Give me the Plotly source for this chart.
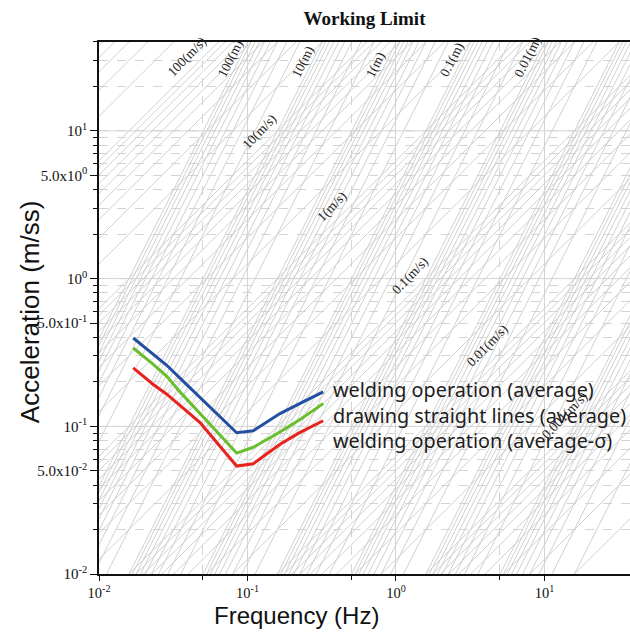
import math
import plotly.graph_objects as go

# ---------------- data ----------------
title_text = "Working Limit"
x_title = "Frequency (Hz)"
y_title = "Acceleration (m/ss)"

freq = [0.0170, 0.0232, 0.0286, 0.0351, 0.0479, 0.0845, 0.1094, 0.1656, 0.226, 0.3236]
welding_avg = [0.396, 0.307, 0.259, 0.212, 0.157, 0.0904, 0.0933, 0.122, 0.143, 0.171]
drawing_avg = [0.339, 0.263, 0.218, 0.171, 0.122, 0.0659, 0.0721, 0.0914, 0.111, 0.1425]
welding_avg_sigma = [0.249, 0.192, 0.165, 0.138, 0.106, 0.0538, 0.0558, 0.0755, 0.0910, 0.109]

series_values = [welding_avg, drawing_avg, welding_avg_sigma]
series_names = ["welding operation (average)",
                "drawing straight lines (average)",
                "welding operation (average-σ)"]
series_colors = ["#2350a3", "#68bf2d", "#e8231d"]
label_yshift = [2, -12, -20]

# tripartite background lines: constant velocity (m/s) and constant displacement (m)
multipliers = [1, 2, 3, 4, 5, 6, 7, 8, 9]
velocity_decades = [1e-4, 1e-3, 1e-2, 1e-1, 1, 10, 100]
displacement_decades = [1e-6, 1e-5, 1e-4, 1e-3, 1e-2, 1e-1, 1, 10]
displacement_extra = [100]

velocity_label_values = [100, 10, 1, 0.1, 0.01, 0.001]
velocity_label_text = ["100(m/s)", "10(m/s)", "1(m/s)", "0.1(m/s)", "0.01(m/s)", "0.001(m/s)"]
displacement_label_values = [100, 10, 1, 0.1, 0.01]
displacement_label_text = ["100(m)", "10(m)", "1(m)", "0.1(m)", "0.01(m)"]

x_tickvals = [0.01, 0.1, 1, 10]
x_ticktext = ["10<sup>-2</sup>", "10<sup>-1</sup>", "10<sup>0</sup>", "10<sup>1</sup>"]
x_minor_vals = [0.05, 0.5, 5]
y_tickvals = [0.01, 0.05, 0.1, 0.5, 1, 5, 10]
y_ticktext = ["10<sup>-2</sup>", "5.0x10<sup>-2</sup>", "10<sup>-1</sup>", "5.0x10<sup>-1</sup>",
              "10<sup>0</sup>", "5.0x10<sup>0</sup>", "10<sup>1</sup>"]
y_decades = [0.1, 1, 10]
y_minor_mult = [2, 3, 4, 6, 7, 8, 9]
y_minor_decades = [0.01, 0.1, 1, 10]

x_range_log = [-2, 1.576]
y_range_log = [-2, 1.602]

GRID = "#d4d4d4"
LINE = "#d0d0d0"
TWO_PI = 2 * math.pi

fig = go.Figure()

# solid decade gridlines (horizontal)
gx, gy = [], []
for d in y_decades:
    gx += [10 ** x_range_log[0], 10 ** x_range_log[1], None]
    gy += [d, d, None]
fig.add_trace(go.Scatter(x=gx, y=gy, mode="lines", line=dict(color=GRID, width=1),
                         hoverinfo="skip", showlegend=False))

f_lo, f_hi = 0.003, 100.0
# constant velocity lines: A = 2*pi*f*V
vx, vy = [], []
for dec in velocity_decades:
    for k in multipliers:
        V = k * dec
        vx += [f_lo, f_hi, None]
        vy += [TWO_PI * f_lo * V, TWO_PI * f_hi * V, None]
fig.add_trace(go.Scatter(x=vx, y=vy, mode="lines", line=dict(color=LINE, width=1),
                         hoverinfo="skip", showlegend=False))

# constant displacement lines: A = (2*pi*f)^2 * D
dx, dy = [], []
disp_vals = [k * dec for dec in displacement_decades for k in multipliers] + displacement_extra
for D in disp_vals:
    dx += [f_lo, f_hi, None]
    dy += [(TWO_PI * f_lo) ** 2 * D, (TWO_PI * f_hi) ** 2 * D, None]
fig.add_trace(go.Scatter(x=dx, y=dy, mode="lines", line=dict(color=LINE, width=1),
                         hoverinfo="skip", showlegend=False))

# measured curves
for vals, name, col in zip(series_values, series_names, series_colors):
    fig.add_trace(go.Scatter(x=freq, y=vals, mode="lines", name=name,
                             line=dict(color=col, width=3), showlegend=False))

annotations = []
# curve labels
for vals, name, ys in zip(series_values, series_names, label_yshift):
    annotations.append(dict(x=math.log10(freq[-1]), y=math.log10(vals[-1]), xref="x", yref="y",
                            text=name, showarrow=False, xanchor="left", yanchor="middle",
                            xshift=8, yshift=ys,
                            font=dict(family="Noto Sans", size=19.8, color="#1e1e1e")))

# velocity labels
for V, txt in zip(velocity_label_values, velocity_label_text):
    i = 2 - math.log10(V)
    annotations.append(dict(x=-1.569 + 0.5037 * i, y=1.343 - 0.4915 * i, xref="x", yref="y",
                            text=txt, showarrow=False, textangle=-46,
                            xanchor="left", yanchor="bottom", borderpad=0,
                            font=dict(family="Liberation Serif", size=13.5, color="#222")))
# displacement labels
for D, txt in zip(displacement_label_values, displacement_label_text):
    i = 2 - math.log10(D)
    annotations.append(dict(x=-1.232 + 0.5 * i, y=1.34, xref="x", yref="y",
                            text=txt, showarrow=False, textangle=-63,
                            xanchor="left", yanchor="bottom", borderpad=0,
                            font=dict(family="Liberation Serif", size=13.5, color="#222")))

# axis titles
annotations.append(dict(x=0.371, y=-0.078, xref="paper", yref="paper", text=x_title,
                        showarrow=False, xanchor="center", yanchor="middle", borderpad=0,
                        font=dict(family="Liberation Sans", size=24, color="#111")))
annotations.append(dict(x=-0.13, y=0.494, xref="paper", yref="paper", text=y_title,
                        showarrow=False, textangle=-90, xanchor="center", yanchor="middle",
                        font=dict(family="Liberation Sans", size=26, color="#111")))

y_minor_vals = [m * d for d in y_minor_decades for m in y_minor_mult] + [20, 30]

fig.update_layout(
    width=630, height=633,
    margin=dict(l=99, r=0, t=42, b=59),
    paper_bgcolor="white", plot_bgcolor="white",
    title=dict(text="<b>" + title_text + "</b>", x=0.5, xref="paper", xanchor="center",
               y=1 - 18 / 633, yanchor="middle",
               font=dict(family="Liberation Serif", size=19, color="#111")),
    annotations=annotations,
    xaxis=dict(type="log", range=x_range_log, tickvals=x_tickvals, ticktext=x_ticktext,
               ticks="outside", ticklen=5, tickwidth=1, tickcolor="#111",
               showline=True, linecolor="#111", linewidth=1.6, mirror=True,
               showgrid=True, gridcolor=GRID, gridwidth=1, zeroline=False,
               tickfont=dict(family="Liberation Serif", size=14.5, color="#111"),
               minor=dict(tickvals=x_minor_vals, ticks="outside", ticklen=4, tickcolor="#111",
                          showgrid=True, gridcolor=GRID, griddash="dash", gridwidth=1)),
    yaxis=dict(type="log", range=y_range_log, tickvals=y_tickvals, ticktext=y_ticktext,
               ticks="outside", ticklen=7, tickwidth=1, tickcolor="#111",
               showline=True, linecolor="#111", linewidth=1.6,
               showgrid=True, gridcolor=GRID, gridwidth=1, griddash="dash", zeroline=False,
               tickfont=dict(family="Liberation Serif", size=15, color="#111"),
               minor=dict(tickvals=y_minor_vals, ticks="outside", ticklen=4, tickcolor="#111",
                          showgrid=True, gridcolor=GRID, griddash="dash", gridwidth=1)),
)

fig.write_html("out.html")
